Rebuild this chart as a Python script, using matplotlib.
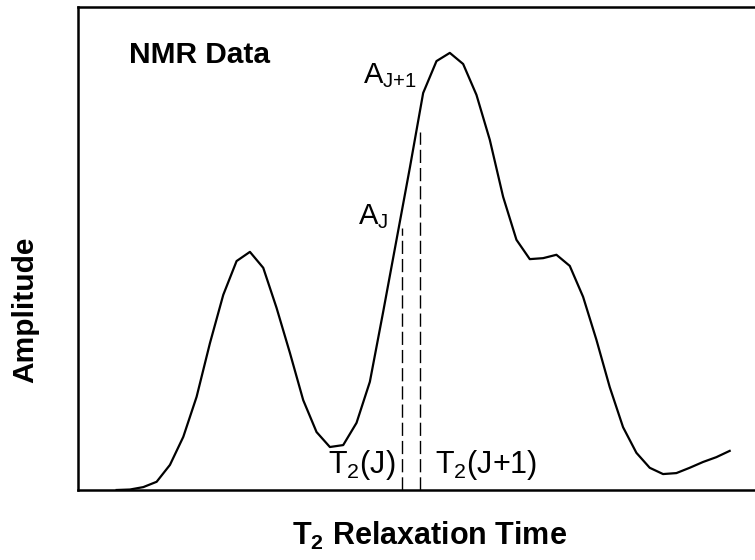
import numpy as np
import matplotlib
matplotlib.use("Agg")
import matplotlib.pyplot as plt

plt.rcParams['font.family'] = ['Liberation Sans', 'DejaVu Sans']
plt.rcParams['mathtext.fontset'] = 'custom'
plt.rcParams['mathtext.rm'] = 'Liberation Sans'
plt.rcParams['mathtext.it'] = 'Liberation Sans'
plt.rcParams['mathtext.bf'] = 'Liberation Sans:bold'

# T2 bin index and amplitude (% of full scale)
t2_bin = np.arange(47)
amplitude = [0, 0.1, 0.6, 1.7, 5.2, 11.0, 19.3, 30.4, 40.4, 47.4,
             49.3, 46.0, 37.7, 28.4, 18.6, 12.0, 8.9, 9.3, 13.9, 22.4,
             36.9, 51.8, 66.7, 82.2, 88.8, 90.5, 88.2, 81.8, 72.5, 60.7,
             51.8, 47.8, 48.0, 48.7, 46.4, 40.0, 31.1, 21.3, 13.0, 7.7,
             4.6, 3.3, 3.5, 4.6, 5.8, 6.8, 8.1]

# marked bins J and J+1 (dashed lines), with the top of each dash
marker_x = [21.38, 22.75]
marker_top = [54.2, 74.1]

fig = plt.figure(figsize=(7.55, 5.6), dpi=100)
ax = fig.add_axes([78/755, 70/560, 677/755, 483/560])

ax.plot(t2_bin, amplitude, color='black', lw=1.6)
for xm, top in zip(marker_x, marker_top):
    ax.plot([xm, xm], [0, top], color='black', lw=1.0, dashes=(9.5, 3.6))

ax.set_xlim(-2.9, 47.9)
ax.set_ylim(0, 100)
ax.set_xticks([])
ax.set_yticks([])
ax.spines['right'].set_visible(False)
for s in ['left', 'top', 'bottom']:
    ax.spines[s].set_linewidth(1.8)

ax.text(0.92, 90, 'NMR Data', fontsize=21.5, fontweight='bold', ha='left', va='center')
ax.text(18.5, 85.7, r'A$_\text{J+1}$', fontsize=21, ha='left', va='center')
ax.text(18.1, 56.7, r'A$_\text{J}$', fontsize=21, ha='left', va='center')
ax.text(15.85, 5.2, r'T$_\text{2}$(J)', fontsize=22, ha='left', va='center')
ax.text(23.9, 5.2, r'T$_\text{2}$(J+1)', fontsize=22, ha='left', va='center')

fig.text(430/755, 15/560, r'T$_\mathbf{2}$ Relaxation Time', fontsize=22,
         fontweight='bold', ha='center', va='baseline')
fig.text(25/755, 250/560, 'Amplitude', fontsize=21.5, fontweight='bold',
         rotation=90, ha='center', va='center')

fig.savefig('out.png', dpi=100)
